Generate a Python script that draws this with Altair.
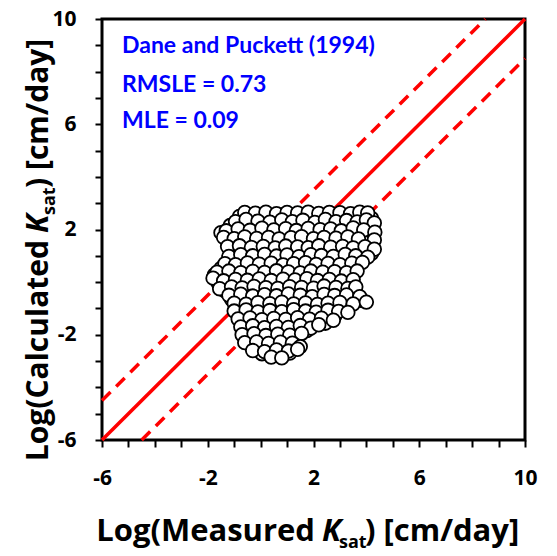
import altair as alt
import pandas as pd

# Measured vs calculated log Ksat
# first the points lying underneath, then the ones drawn on top
meas = [
    -0.8, -0.4, 0.0, 0.4, 0.8, 1.2, 1.6, 2.0, 2.4, 2.8, 3.2, 3.55, 3.9, 4.2,
    -1.15, -0.7, -0.3, 0.15, 0.6, 1.05, 1.45, 1.85, 2.25, 2.7, 3.1, 3.45, 3.85, 4.2,
    -1.5, -1.1, -0.65, -0.2, 0.25, 0.7, 1.15, 1.6, 2.0, 2.45, 2.85, 3.3, 3.7, 4.15,
    -1.2, -0.8, -0.35, 0.1, 0.5, 0.9, 1.35, 1.75, 2.2, 2.6, 3.05, 3.5, 3.9,
    -1.0, -0.55, -0.1, 0.35, 0.8, 1.2, 1.65, 2.05, 2.5, 2.95, 3.4, 3.8, 4.2,
    -1.0, -0.55, -0.1, 0.35, 0.8, 1.2, 1.65, 2.1, 2.5, 2.95, 3.4, 3.8,
    -1.5, -1.1, -0.7, -0.25, 0.2, 0.65, 1.05, 1.5, 1.9, 2.35, 2.75, 3.2, 3.6,
    -1.75, -1.4, -0.95, -0.5, -0.05, 0.4, 0.85, 1.3, 1.7, 2.15, 2.55, 3.0, 3.45,
    -1.6, -1.15, -0.7, -0.25, 0.2, 0.6, 1.05, 1.5, 1.95, 2.4, 2.8, 3.25,
    -1.35, -0.95, -0.5, -0.05, 0.4, 0.85, 1.3, 1.75, 2.2, 2.6, 3.05, 3.5,
    -1.1, -0.65, -0.2, 0.25, 0.7, 1.15, 1.6, 2.05, 2.5, 2.9, 3.35, 3.85,
    -0.8, -0.35, 0.1, 0.55, 1.0, 1.45, 1.9, 2.35, 2.75, 3.2,
    -0.8, -0.35, 0.1, 0.55, 1.0, 1.45, 1.9, 2.35, 2.8,
    -0.65, -0.2, 0.25, 0.7, 1.15, 1.6, 2.05, 2.45,
    -0.5, -0.05, 0.4, 0.85, 1.3, 1.75,
    -0.45, 0.0, 0.45, 0.9, 1.35,
    -0.35, 0.1, 0.55, 0.95,
    0.05, 0.6, 1.1,
    -0.6, -0.2, 0.2, 0.6, 1.0, 1.4, 1.8, 2.2, 2.6, 3.0, 3.4, 3.75, 4.05,
    -0.95, -0.55, -0.1, 0.35, 0.8, 1.2, 1.6, 2.05, 2.45, 2.85, 3.25, 3.65, 4.0, 4.3,
    -1.3, -0.85, -0.4, 0.05, 0.5, 0.95, 1.35, 1.8, 2.25, 2.65, 3.05, 3.5, 3.9, 4.32,
    -1.4, -1.0, -0.6, -0.15, 0.3, 0.7, 1.15, 1.55, 2.0, 2.4, 2.85, 3.3, 3.7, 4.3,
    -1.25, -0.8, -0.35, 0.1, 0.55, 0.95, 1.4, 1.8, 2.2, 2.65, 3.1, 3.5, 3.95, 4.3,
    -1.2, -0.75, -0.3, 0.15, 0.6, 1.0, 1.45, 1.9, 2.3, 2.75, 3.2, 3.6, 4.05,
    -1.35, -0.95, -0.5, -0.05, 0.4, 0.85, 1.25, 1.7, 2.1, 2.55, 3.0, 3.45, 3.85,
    -1.65, -1.2, -0.75, -0.3, 0.15, 0.6, 1.05, 1.5, 1.9, 2.35, 2.8, 3.25, 3.65,
    -1.8, -1.4, -0.95, -0.5, -0.05, 0.4, 0.85, 1.3, 1.75, 2.15, 2.6, 3.05, 3.5,
    -1.55, -1.1, -0.7, -0.25, 0.2, 0.65, 1.1, 1.55, 2.0, 2.4, 2.85, 3.3, 3.6,
    -1.2, -0.75, -0.3, 0.15, 0.6, 1.05, 1.5, 1.95, 2.4, 2.8, 3.25, 3.75,
    -1.0, -0.55, -0.1, 0.35, 0.8, 1.25, 1.7, 2.15, 2.55, 3.0, 3.5, 4.0,
    -1.0, -0.55, -0.1, 0.35, 0.8, 1.25, 1.7, 2.1, 2.55, 2.95, 3.3,
    -0.85, -0.4, 0.05, 0.5, 0.95, 1.4, 1.85, 2.3, 2.75,
    -0.75, -0.3, 0.15, 0.6, 1.05, 1.5, 1.9, 2.2,
    -0.7, -0.25, 0.2, 0.65, 1.1, 1.55,
    -0.6, -0.15, 0.3, 0.75, 1.2, 1.5,
    -0.3, 0.15, 0.6, 1.05, 1.4,
    0.4, 0.8,
]
calc = [
    2.5, 2.47, 2.52, 2.45, 2.55, 2.48, 2.5, 2.44, 2.53, 2.49, 2.46, 2.52, 2.48, 2.42,
    2.15, 2.2, 2.12, 2.18, 2.14, 2.22, 2.16, 2.1, 2.19, 2.13, 2.2, 2.15, 2.11, 2.18,
    1.88, 1.82, 1.86, 1.8, 1.87, 1.83, 1.85, 1.79, 1.88, 1.84, 1.81, 1.86, 1.83, 1.78,
    1.5, 1.55, 1.48, 1.53, 1.5, 1.56, 1.49, 1.52, 1.47, 1.54, 1.5, 1.46, 1.52,
    1.2, 1.15, 1.21, 1.16, 1.19, 1.14, 1.2, 1.17, 1.22, 1.15, 1.18, 1.13, 1.1,
    0.85, 0.88, 0.83, 0.87, 0.84, 0.9, 0.86, 0.82, 0.88, 0.85, 0.83, 0.87,
    0.52, 0.57, 0.54, 0.58, 0.53, 0.56, 0.51, 0.55, 0.58, 0.52, 0.56, 0.53, 0.57,
    0.27, 0.22, 0.26, 0.21, 0.25, 0.28, 0.23, 0.26, 0.2, 0.24, 0.27, 0.22, 0.25,
    -0.05, -0.02, -0.07, -0.03, -0.06, -0.01, -0.08, -0.04, -0.02, -0.07, -0.03, -0.06,
    -0.33, -0.38, -0.34, -0.39, -0.32, -0.37, -0.35, -0.31, -0.38, -0.34, -0.36, -0.32,
    -0.65, -0.62, -0.67, -0.63, -0.68, -0.64, -0.61, -0.66, -0.63, -0.69, -0.64, -0.7,
    -0.95, -0.98, -0.93, -0.97, -0.92, -0.96, -0.99, -0.94, -0.97, -0.93,
    -1.25, -1.28, -1.23, -1.27, -1.22, -1.26, -1.29, -1.24, -1.3,
    -1.55, -1.52, -1.57, -1.53, -1.58, -1.54, -1.5, -1.56,
    -1.85, -1.82, -1.87, -1.83, -1.88, -1.84,
    -2.15, -2.12, -2.17, -2.13, -2.18,
    -2.45, -2.42, -2.47, -2.43,
    -2.72, -2.78, -2.7,
    2.65, 2.62, 2.66, 2.6, 2.65, 2.63, 2.66, 2.61, 2.65, 2.64, 2.6, 2.66, 2.63,
    2.3, 2.38, 2.32, 2.28, 2.36, 2.3, 2.35, 2.27, 2.38, 2.3, 2.34, 2.29, 2.36, 2.25,
    1.95, 2.02, 1.97, 2.05, 1.98, 2.03, 1.96, 2.04, 1.99, 2.02, 1.95, 2.06, 1.98, 1.9,
    1.7, 1.65, 1.72, 1.66, 1.7, 1.64, 1.69, 1.73, 1.65, 1.7, 1.67, 1.72, 1.64, 1.6,
    1.35, 1.38, 1.32, 1.36, 1.3, 1.37, 1.34, 1.31, 1.38, 1.33, 1.36, 1.3, 1.35, 1.25,
    0.98, 1.04, 1.0, 1.05, 0.99, 1.03, 0.97, 1.04, 1.01, 0.98, 1.05, 1.0, 0.95,
    0.7, 0.66, 0.73, 0.68, 0.72, 0.65, 0.7, 0.74, 0.67, 0.71, 0.66, 0.72, 0.75,
    0.38, 0.42, 0.36, 0.41, 0.37, 0.43, 0.39, 0.35, 0.42, 0.38, 0.4, 0.36, 0.42,
    0.15, 0.05, 0.1, 0.07, 0.12, 0.06, 0.11, 0.08, 0.13, 0.06, 0.1, 0.04, 0.09,
    -0.25, -0.18, -0.22, -0.16, -0.21, -0.24, -0.17, -0.2, -0.23, -0.15, -0.2, -0.24, -0.18,
    -0.5, -0.46, -0.53, -0.48, -0.52, -0.45, -0.5, -0.55, -0.47, -0.51, -0.49, -0.55,
    -0.8, -0.84, -0.78, -0.82, -0.76, -0.83, -0.79, -0.85, -0.8, -0.77, -0.83, -0.76,
    -1.1, -1.06, -1.13, -1.08, -1.12, -1.05, -1.1, -1.14, -1.07, -1.11, -1.15,
    -1.4, -1.36, -1.43, -1.38, -1.42, -1.35, -1.41, -1.37, -1.45,
    -1.7, -1.66, -1.73, -1.68, -1.72, -1.65, -1.75, -1.62,
    -2.0, -1.96, -2.03, -1.98, -2.02, -1.95,
    -2.3, -2.27, -2.33, -2.28, -2.32, -2.45,
    -2.6, -2.64, -2.58, -2.62, -2.55,
    -2.85, -2.88,
]

# reference lines: 1:1 and +/- 1.5 band
one_x = [-6, 10]
one_y = [-6, 10]
upper_x = [-6, 8.5]
upper_y = [-4.5, 10]
lower_x = [-4.5, 10]
lower_y = [-6, 8.5]

tick_values = list(range(-6, 11))
annotations = ["Dane and Puckett (1994)", "RMSLE = 0.73", "MLE = 0.09"]

FONT = "Open Sans"
ANN_FONT = "Lato"

pts = pd.DataFrame({"meas": meas, "calc": calc})

scale = alt.Scale(domain=[-6, 10], nice=False, zero=False)
label_expr = "(datum.value + 6) % 4 == 0 ? toString(datum.value) : ''"

x_axis = alt.Axis(values=tick_values, labelExpr=label_expr, tickSize=7, tickWidth=2,
                  tickColor="black", domain=False, grid=False, labelFont=FONT,
                  labelFontWeight="bold", labelFontSize=21, labelColor="black",
                  labelPadding=20, labelFlush=False, labelOverlap=False, title=None)
y_axis = alt.Axis(values=tick_values, labelExpr=label_expr, tickSize=7, tickWidth=2,
                  tickColor="black", domain=False, grid=False, labelFont=FONT,
                  labelFontWeight="bold", labelFontSize=21, labelColor="black",
                  labelPadding=19, labelFlush=False, labelOverlap=False, title=None)


def line_layer(xv, yv, dash):
    df = pd.DataFrame({"x": xv, "y": yv})
    kw = dict(color="#ff0000", strokeWidth=3.5)
    if dash:
        kw["strokeDash"] = [12, 8]
    return alt.Chart(df).mark_line(**kw).encode(
        x=alt.X("x:Q", scale=scale, axis=x_axis),
        y=alt.Y("y:Q", scale=scale, axis=y_axis),
    )


lines = [
    line_layer(one_x, one_y, False),
    line_layer(upper_x, upper_y, True),
    line_layer(lower_x, lower_y, True),
]

points = alt.Chart(pts).mark_point(
    shape="circle", filled=True, fill="white", stroke="black",
    strokeWidth=1.8, size=185, opacity=1
).encode(
    x=alt.X("meas:Q", scale=scale, axis=x_axis),
    y=alt.Y("calc:Q", scale=scale, axis=y_axis),
)


def text_layer(txt, x, y, size=22, color="black", style="normal", align="left",
               angle=0, weight="bold", font=FONT):
    df = pd.DataFrame({"t": [txt]})
    return alt.Chart(df).mark_text(
        font=font, fontSize=size, fontWeight=weight, fontStyle=style,
        color=color, align=align, baseline="alphabetic", angle=angle
    ).encode(x=alt.value(x), y=alt.value(y), text="t:N")


ann = [
    text_layer(annotations[0], 20, 34, size=23, color="#0000ff", font=ANN_FONT),
    text_layer(annotations[1], 20, 73, size=23, color="#0000ff", font=ANN_FONT),
    text_layer(annotations[2], 20, 109, size=23, color="#0000ff", font=ANN_FONT),
]

# x-axis title pieces
xt_base = 522
xtitle = [
    text_layer("Log(Measured", 213, xt_base, size=31, align="right"),
    text_layer("K", 220, xt_base, size=31, style="italic"),
    text_layer("sat", 237, xt_base + 7, size=18),
    text_layer(") [cm/day]", 263, xt_base, size=31),
]

# y-axis title pieces (rotated)
yt_x = -54
ytitle = [
    text_layer("Log(Calculated", yt_x, 221, size=30, align="right", angle=270),
    text_layer("K", yt_x, 214, size=30, style="italic", angle=270),
    text_layer("sat", yt_x + 7, 196, size=18, angle=270),
    text_layer(") [cm/day]", yt_x, 169, size=30, angle=270),
]

chart = alt.layer(*lines, points, *ann, *xtitle, *ytitle).properties(
    width=423, height=421,
    autosize=alt.AutoSizeParams(type="none"),
    padding={"left": 102, "top": 19, "right": 32, "bottom": 116},
    background="white",
).configure_view(stroke="black", strokeWidth=3)

chart.save("out.html", embed_options={"renderer": "svg", "actions": False})
